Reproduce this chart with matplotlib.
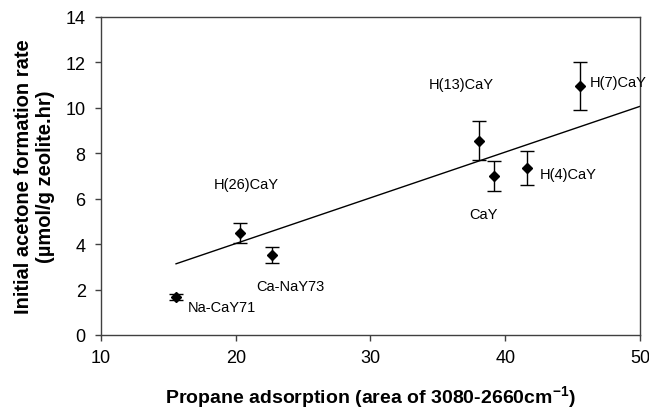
import numpy as np
import matplotlib
matplotlib.use("Agg")
import matplotlib.pyplot as plt

plt.rcParams['font.family'] = ['Liberation Sans', 'DejaVu Sans']
plt.rcParams['mathtext.fontset'] = 'custom'
plt.rcParams['mathtext.rm'] = 'Liberation Sans'
plt.rcParams['mathtext.bf'] = 'Liberation Sans:bold'

# Catalyst data
samples = ["Na-CaY71", "H(26)CaY", "Ca-NaY73", "H(13)CaY", "CaY", "H(4)CaY", "H(7)CaY"]
propane_area = [15.57, 20.32, 22.71, 38.07, 39.19, 41.59, 45.57]
acetone_rate = [1.67, 4.49, 3.52, 8.55, 7.00, 7.35, 10.98]
rate_error = [0.15, 0.45, 0.35, 0.86, 0.68, 0.73, 1.06]

# Label anchor positions (data coordinates)
label_x = [18.96, 20.76, 24.03, 36.77, 38.37, 44.68, 48.39]
label_y = [1.22, 6.65, 2.14, 11.05, 5.33, 7.09, 11.13]

xticks = [10, 20, 30, 40, 50]
yticks = [0, 2, 4, 6, 8, 10, 12, 14]

fig = plt.figure(figsize=(6.49, 4.10), dpi=100)
ax = fig.add_axes([0.1556, 0.1805, 0.8305, 0.7756])

x = np.array(propane_area)
y = np.array(acetone_rate)

# Least-squares line through the origin
slope = np.sum(x * y) / np.sum(x * x)
xf = np.array([x.min(), 50])
ax.plot(xf, slope * xf, color='black', lw=1.0, zorder=2)

ax.errorbar(x, y, yerr=rate_error, fmt='D', color='black', ms=5.5,
            ecolor='black', elinewidth=1.0, capsize=5, capthick=1.0, zorder=3)

for s, lx, ly in zip(samples, label_x, label_y):
    ax.text(lx, ly, s, ha='center', va='center', fontsize=10.5, color='black')

ax.set_xlim(10, 50)
ax.set_ylim(0, 14)
ax.set_xticks(xticks)
ax.set_yticks(yticks)
ax.tick_params(direction='out', length=4, width=1, colors='#404040',
               labelcolor='black', labelsize=13, top=False, right=False)
ax.tick_params(axis='y', pad=7)
ax.tick_params(axis='x', pad=6)
for sp in ax.spines.values():
    sp.set_color('#404040')
    sp.set_linewidth(1.0)

fig.text(0.5709, 1 - 404 / 410, r"Propane adsorption (area of 3080-2660cm$^{\mathbf{-1}}$)",
         ha='center', va='baseline', fontsize=14, fontweight='bold')
fig.text(34.5 / 649, 1 - 177 / 410,
         "Initial acetone formation rate\n(\u00b5mol/g zeolite.hr)",
         ha='center', va='center', rotation=90, fontsize=14.5,
         fontweight='bold', linespacing=1.2, multialignment='center')

fig.savefig("out.png", dpi=100)
